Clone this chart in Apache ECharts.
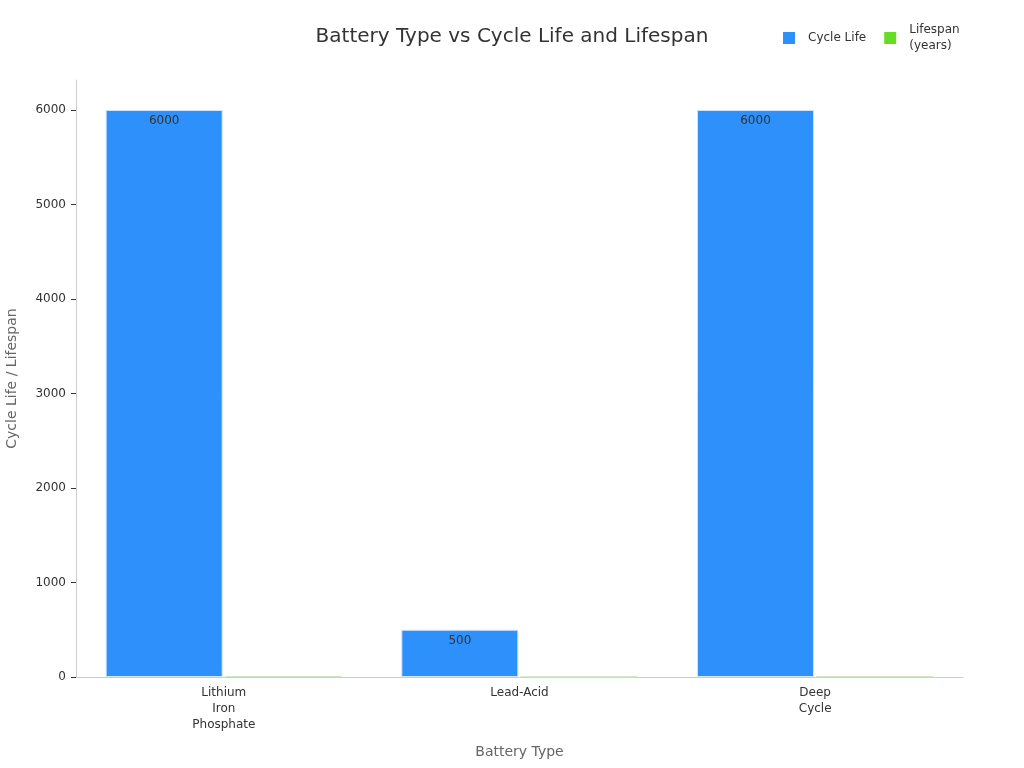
<!DOCTYPE html><html><head><meta charset="utf-8"><script src="https://cdn.jsdelivr.net/npm/echarts@6/dist/echarts.min.js"></script></head><body style="margin:0"><div id="c" style="width:1024px;height:768px"></div><script>
const categories=["Lithium\nIron\nPhosphate","Lead-Acid","Deep\nCycle"];
const cycleLife=[6000,500,6000];
const lifespan=[10,4,8];
const ch=echarts.init(document.getElementById('c'));
ch.setOption({
title:{text:'Battery Type vs Cycle Life and Lifespan',left:507,top:22,textAlign:'center',textStyle:{fontFamily:'DejaVu Sans',fontSize:20,fontWeight:'normal',color:'#333'}},
legend:{left:778,top:17,itemWidth:12,itemHeight:12,itemGap:18,textStyle:{fontFamily:'DejaVu Sans',fontSize:12,color:'#333',padding:[0,0,0,8],lineHeight:16,verticalAlign:'top'},itemStyle:{borderWidth:0},data:[{name:'Cycle Life',icon:'rect'},{name:'Lifespan\n(years)',icon:'rect'}]},
grid:{left:76,right:61,top:80,bottom:91,containLabel:false,outerBoundsMode:'none'},
xAxis:{type:'category',data:categories,name:'Battery Type',nameLocation:'middle',nameGap:68,nameTextStyle:{fontFamily:'DejaVu Sans',fontSize:14,color:'#666'},axisLine:{lineStyle:{color:'#ccc'}},axisTick:{alignWithLabel:false,lineStyle:{color:'#333'}},axisLabel:{fontFamily:'DejaVu Sans',fontSize:12,color:'#333',interval:0,lineHeight:16}},
yAxis:{type:'value',min:0,max:6317,interval:1000,name:'Cycle Life / Lifespan',nameLocation:'middle',nameGap:57,nameTextStyle:{fontFamily:'DejaVu Sans',fontSize:14,color:'#666'},axisLine:{show:true,lineStyle:{color:'#ccc'}},axisTick:{show:true,lineStyle:{color:'#333'}},splitLine:{show:false},axisLabel:{fontFamily:'DejaVu Sans',fontSize:12,color:'#333',showMaxLabel:false,margin:10,formatter:v=>String(v)}},
series:[
{name:'Cycle Life',type:'bar',data:cycleLife,barWidth:117,barGap:'2%',itemStyle:{color:'#2e90fa',borderColor:'#d0e4fb',borderWidth:1},label:{show:true,position:'insideTop',fontFamily:'DejaVu Sans',fontSize:12,color:'#333'}},
{name:'Lifespan\n(years)',type:'bar',data:lifespan,barWidth:117,itemStyle:{color:'#66dd22',borderColor:'#cde8c0',borderWidth:1}}
]});
</script></body></html>
